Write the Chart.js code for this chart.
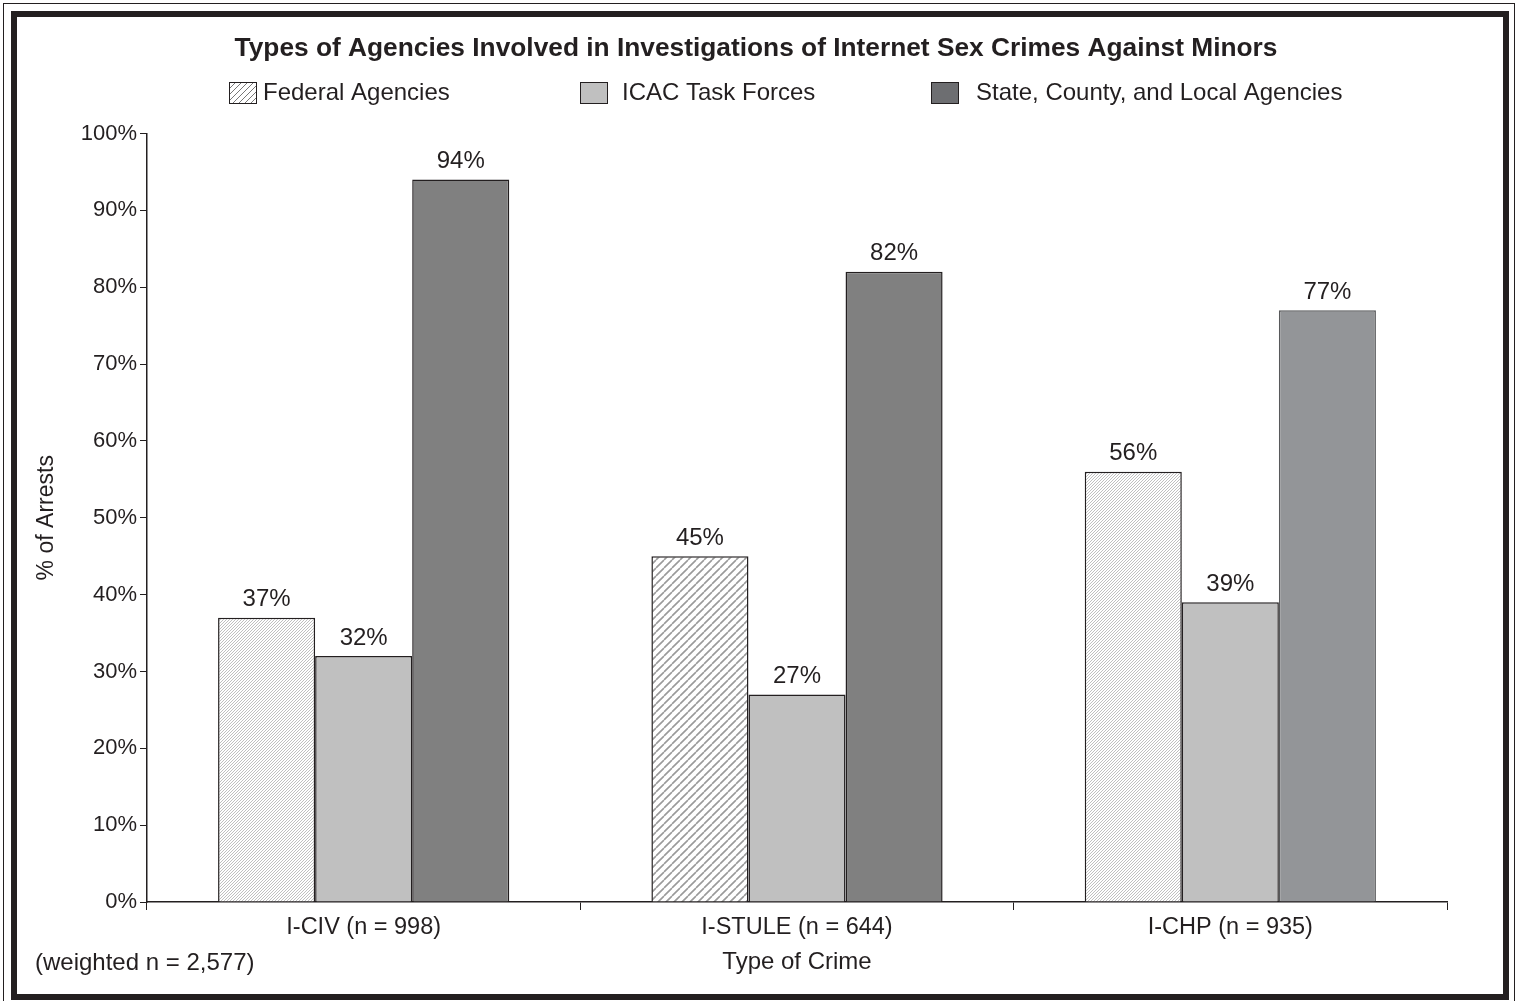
<!DOCTYPE html>
<html>
<head>
<meta charset="utf-8">
<script src="https://cdn.jsdelivr.net/npm/chart.js@4.4.1/dist/chart.umd.min.js"></script>
<style>
  html, body { margin: 0; padding: 0; background: #fff; overflow: hidden; }
  #wrap { position: relative; width: 1518px; height: 1001px; }
  #note { position: absolute; left: 35px; top: 948px; font: 24px "Liberation Sans", Arial, sans-serif; line-height: 28px; color: #231f20; }
</style>
</head>
<body>
<div id="wrap">
  <canvas id="chart" width="1518" height="1001"></canvas>
  <div id="note">(weighted n = 2,577)</div>
</div>
<script>
var chartTitle = 'Types of Agencies Involved in Investigations of Internet Sex Crimes Against Minors';
var categories = ['I-CIV (n = 998)', 'I-STULE (n = 644)', 'I-CHP (n = 935)'];
var seriesNames = ['Federal Agencies', 'ICAC Task Forces', 'State, County, and Local Agencies'];
var federal = [37, 45, 56];
var icac = [32, 27, 39];
var stateLocal = [94, 82, 77];
var yTicks = [0, 10, 20, 30, 40, 50, 60, 70, 80, 90, 100];

var ink = '#231f20';
var font = '"Liberation Sans", Arial, sans-serif';

// diagonal hatch fill
function hatch(size, color, lw) {
    var c = document.createElement('canvas');
    c.width = c.height = size;
    var g = c.getContext('2d');
    g.fillStyle = '#fff';
    g.fillRect(0, 0, size, size);
    g.strokeStyle = color;
    g.lineWidth = lw;
    g.beginPath();
    [-size, 0, size].forEach(function(k) {
        g.moveTo(k, size);
        g.lineTo(k + size, 0);
    });
    g.stroke();
    return g.createPattern(c, 'repeat');
}

var fineHatch = hatch(3, '#b0b0b0', 0.8);
var coarseHatch = hatch(8, '#9a9a9a', 1.6);
var legendHatch = hatch(6, '#777', 1);

var legendFills = [legendHatch, '#c0c0c0', '#6d6e71'];
var legendX = [229, 580, 931];
var legendTextX = [263, 622, 976];

var labelPlugin = {
    id: 'barLabels',
    afterDatasetsDraw: function(chart) {
        var ctx = chart.ctx;
        ctx.save();
        ctx.font = '24px ' + font;
        ctx.fillStyle = ink;
        ctx.textAlign = 'center';
        ctx.textBaseline = 'bottom';
        chart.data.datasets.forEach(function(ds, i) {
            chart.getDatasetMeta(i).data.forEach(function(bar, j) {
                ctx.fillText(Math.round(ds.data[j]) + '%', bar.x, bar.y - 6);
            });
        });
        ctx.restore();
    }
};

// title and legend drawn by hand: the original is off-centre with uneven gaps
var headerPlugin = {
    id: 'header',
    afterDraw: function(chart) {
        var ctx = chart.ctx;
        ctx.save();
        ctx.fillStyle = ink;
        ctx.font = 'bold 26.3px ' + font;
        ctx.textAlign = 'center';
        ctx.textBaseline = 'middle';
        ctx.fillText(chartTitle, 756, 49);

        ctx.font = '24px ' + font;
        ctx.textAlign = 'left';
        seriesNames.forEach(function(name, i) {
            ctx.fillStyle = legendFills[i];
            ctx.fillRect(legendX[i], 82, 28, 22);
            ctx.strokeStyle = ink;
            ctx.lineWidth = 1;
            ctx.strokeRect(legendX[i] + 0.5, 82.5, 27, 21);
            ctx.fillStyle = ink;
            ctx.fillText(name, legendTextX[i], 93);
        });
        ctx.restore();
    }
};

var framePlugin = {
    id: 'frame',
    beforeDraw: function(chart) {
        var ctx = chart.ctx;
        ctx.save();
        ctx.fillStyle = '#fff';
        ctx.fillRect(0, 0, chart.width, chart.height);
        ctx.restore();
    },
    afterDraw: function(chart) {
        var ctx = chart.ctx;
        ctx.save();
        ctx.strokeStyle = ink;
        ctx.lineWidth = 1;
        ctx.strokeRect(3.5, 3.5, 1511, 1010);
        ctx.lineWidth = 6;
        ctx.strokeRect(14, 14, 1492, 983);
        ctx.restore();
    }
};

var ctx = document.getElementById('chart').getContext('2d');
var myChart = new Chart(ctx, {
    type: 'bar',
    data: {
        labels: categories,
        datasets: [{
            label: seriesNames[0],
            data: federal,
            backgroundColor: [fineHatch, coarseHatch, fineHatch],
            borderColor: ink,
            borderWidth: 1.5
        }, {
            label: seriesNames[1],
            data: icac,
            backgroundColor: '#c0c0c0',
            borderColor: ink,
            borderWidth: 1.5
        }, {
            label: seriesNames[2],
            data: stateLocal,
            backgroundColor: ['#808080', '#808080', '#939598'],
            borderColor: [ink, ink, '#58595b'],
            borderWidth: 1.5
        }]
    },
    options: {
        responsive: false,
        animation: false,
        categoryPercentage: 0.672,
        barPercentage: 1.0,
        layout: {
            padding: { top: 133.5, left: 25, right: 71, bottom: 24 }
        },
        plugins: {
            title: { display: false },
            legend: { display: false },
            tooltip: { enabled: false }
        },
        scales: {
            x: {
                grid: { display: true, drawOnChartArea: false, offset: true, tickLength: 8, color: ink, lineWidth: 1 },
                border: { color: ink, width: 1.5 },
                ticks: { color: ink, font: { family: font, size: 23.5 }, padding: 3.5 },
                title: { display: true, text: 'Type of Crime', color: ink, font: { family: font, size: 24 }, padding: { top: 3, bottom: 0 } }
            },
            y: {
                min: 0,
                max: 100,
                afterBuildTicks: function(scale) {
                    scale.ticks = yTicks.map(function(v) { return { value: v }; });
                },
                afterFit: function(scale) { scale.width = 122; },
                grid: { display: true, drawOnChartArea: false, tickLength: 7, color: ink, lineWidth: 1 },
                border: { color: ink, width: 1.5 },
                ticks: {
                    color: ink,
                    font: { family: font, size: 22 },
                    padding: 3,
                    callback: function(v) { return v + '%'; }
                },
                title: { display: true, text: '% of Arrests', color: ink, font: { family: font, size: 23 }, padding: { top: 8, bottom: 0 } }
            }
        }
    },
    plugins: [labelPlugin, headerPlugin, framePlugin]
});
</script>
</body>
</html>
